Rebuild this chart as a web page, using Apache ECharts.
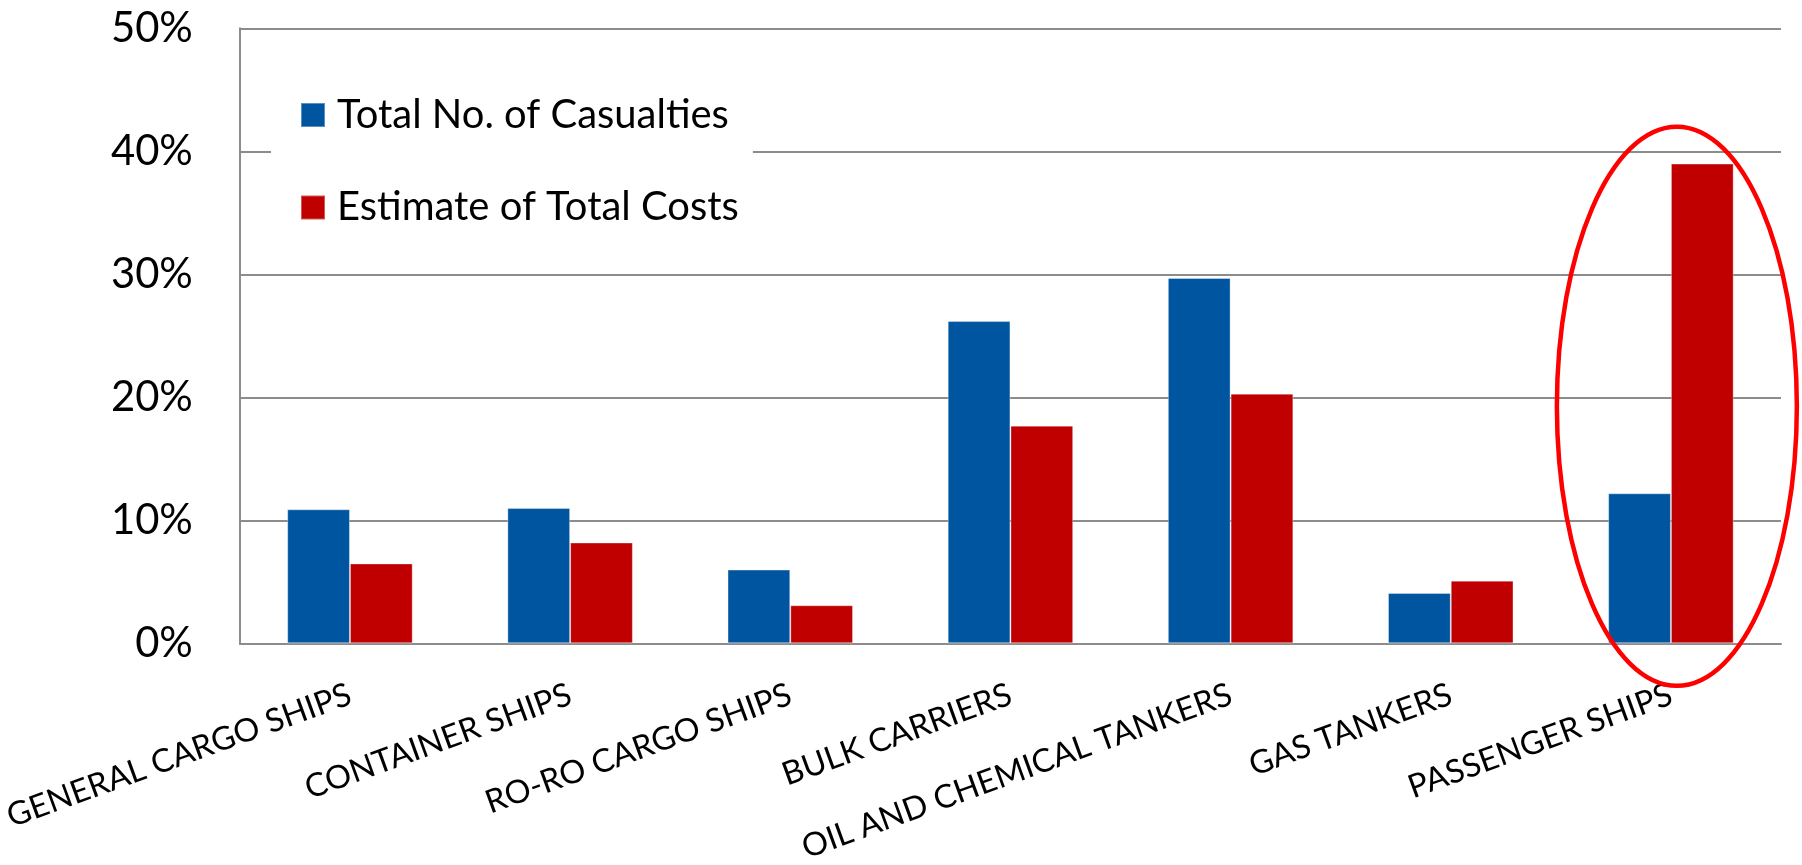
<!DOCTYPE html>
<html><head><meta charset="utf-8">
<script src="https://cdn.jsdelivr.net/npm/echarts@6/dist/echarts.min.js"></script>
<style>html,body{margin:0;padding:0;background:#fff}#c{width:1802px;height:865px}</style>
</head><body><div id="c"></div>
<script>
// ---- data ----
const categories = ['GENERAL CARGO SHIPS', 'CONTAINER SHIPS', 'RO-RO CARGO SHIPS', 'BULK CARRIERS', 'OIL AND CHEMICAL TANKERS', 'GAS TANKERS', 'PASSENGER SHIPS'];
const seriesNames = ['Total No. of Casualties', 'Estimate of Total Costs'];
const casualties = [10.9, 11.0, 6.0, 26.2, 29.7, 4.1, 12.2];
const costs = [6.5, 8.2, 3.1, 17.7, 20.3, 5.1, 39.0];
const yMin = 0, yMax = 50, yStep = 10;
// highlighted category (red ellipse annotation), value extent of the ellipse
const highlightCategory = 'PASSENGER SHIPS';
const highlightTop = 42.0, highlightBottom = -3.45;

// ---- styling ----
const FONT = 'Lato, "Open Sans", sans-serif';
const cv = document.createElement('canvas').getContext('2d');
function fit(text, w) { cv.font = '100px ' + FONT; return 100 * w / cv.measureText(text).width; }
const legendSize = fit('Total No. of Casualties', 392);
const yLabelSize = fit('50%', 82);
const xLabelSize = fit('OIL AND CHEMICAL TANKERS', 455);
const GRAY = '#8c8c8c';

const chart = echarts.init(document.getElementById('c'), null, { renderer: 'canvas' });
chart.setOption({
  animation: false,
  backgroundColor: '#fff',
  grid: { left: 238, right: 21, top: 28.3, bottom: 206.5, containLabel: false },
  legend: {
    orient: 'vertical', left: 271, top: 75,
    padding: [20, 14, 20, 29],
    backgroundColor: '#fff',
    itemWidth: 24, itemHeight: 24, itemGap: 52.5,
    icon: 'rect',
    textStyle: { fontFamily: FONT, fontSize: legendSize, color: '#000', lineHeight: 24, padding: [0, 0, 0, 7] },
    data: seriesNames
  },
  xAxis: {
    type: 'category', data: categories,
    axisLine: { show: true, lineStyle: { color: GRAY, width: 2 } },
    axisTick: { show: false },
    axisLabel: { interval: 0, rotate: 20, margin: 50, fontFamily: FONT, fontSize: xLabelSize, color: '#000' }
  },
  yAxis: {
    type: 'value', min: yMin, max: yMax, interval: yStep,
    axisLine: { show: true, lineStyle: { color: GRAY, width: 2 } },
    axisTick: { show: false },
    splitLine: { show: true, lineStyle: { color: GRAY, width: 2 } },
    axisLabel: { formatter: '{value}%', margin: 47, fontFamily: FONT, fontSize: yLabelSize, color: '#000' }
  },
  series: [
    { name: seriesNames[0], type: 'bar', data: casualties, barGap: '0%', barCategoryGap: '43%',
      itemStyle: { color: '#0055A0', borderColor: 'rgba(255,255,255,0.35)', borderWidth: 1 } },
    { name: seriesNames[1], type: 'bar', data: costs, barGap: '0%', barCategoryGap: '43%',
      itemStyle: { color: '#C00000', borderColor: 'rgba(255,255,255,0.35)', borderWidth: 1 } }
  ]
});

// ellipse annotation anchored to the highlighted category through the axes
const idx = categories.indexOf(highlightCategory);
const cx = chart.convertToPixel({ xAxisIndex: 0 }, highlightCategory);
const band = chart.convertToPixel({ xAxisIndex: 0 }, categories[idx]) - chart.convertToPixel({ xAxisIndex: 0 }, categories[idx - 1]);
const yTop = chart.convertToPixel({ yAxisIndex: 0 }, highlightTop);
const yBot = chart.convertToPixel({ yAxisIndex: 0 }, highlightBottom);
chart.setOption({
  graphic: [{
    type: 'ellipse', silent: true, z: 100,
    shape: { cx: cx + band * 0.027, cy: (yTop + yBot) / 2, rx: band * 0.545, ry: (yBot - yTop) / 2 },
    style: { fill: 'none', stroke: '#FF0000', lineWidth: 4.5 }
  }]
});
</script>
</body></html>
